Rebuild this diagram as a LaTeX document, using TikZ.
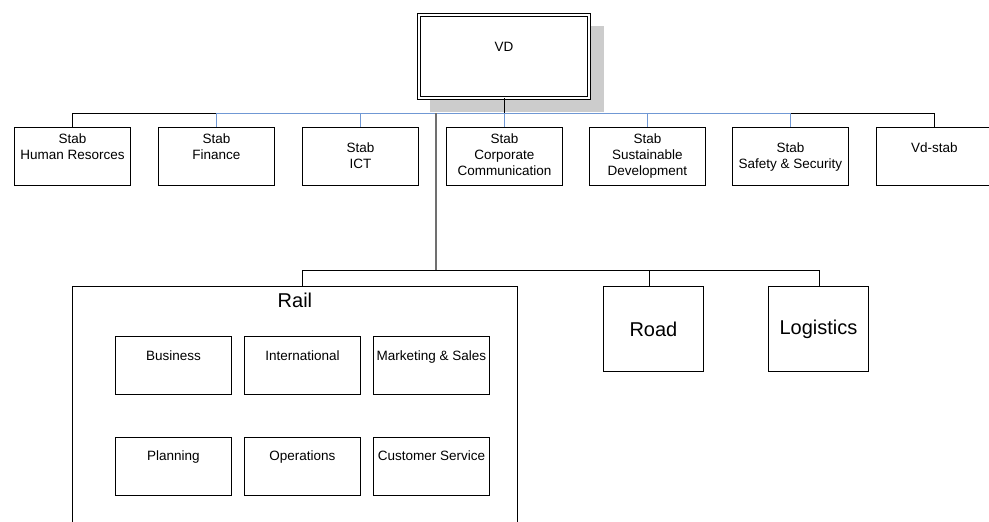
\documentclass[tikz,border=0pt]{standalone}
\usepackage{fontspec}
\setmainfont{Liberation Sans}
\begin{document}
\begin{tikzpicture}[x=1pt,y=-1pt,
  every node/.style={font=\fontsize{13.5}{16}\selectfont},
  unit/.style={draw=black, fill=white, line width=0.9pt, inner sep=0pt,
    minimum width=116pt, minimum height=58pt, anchor=north west},
  bigunit/.style={draw=black, fill=white, line width=0.9pt, inner sep=0pt,
    minimum width=100pt, minimum height=85pt, anchor=north west,
    font=\fontsize{20}{24}\selectfont},
  caption/.style={anchor=north, inner sep=0pt, align=center},
  blackline/.style={draw=black, line width=0.9pt},
  blueline/.style={draw=linkblue, line width=1pt},
  trunkline/.style={draw=trunkgray, line width=1.5pt}]
\definecolor{linkblue}{RGB}{112,152,212}
\definecolor{trunkgray}{RGB}{112,112,112}
\definecolor{shadowgray}{RGB}{204,204,204}

\clip (0,0) rectangle (989,522);
\fill[white] (0,0) rectangle (989,522);

% top box with its drop shadow
\fill[shadowgray] (430,26) rectangle (604,112);
\node[draw=black, fill=white, line width=0.9pt, double, double distance=2pt,
  inner sep=0pt, minimum width=170pt, minimum height=83pt, anchor=north west]
  (vd) at (418.5,14.5) {};
\node[caption] (vdtxt) at ([yshift=-28]vd.north) {VD};

% staff units
\node[unit] (hr)   at (14,127)  {};
\node[unit] (fin)  at (158,127) {};
\node[unit] (ict)  at (302,127) {};
\node[unit] (corp) at (446,127) {};
\node[unit] (sus)  at (589,127) {};
\node[unit] (saf)  at (732,127) {};
\node[unit] (vds)  at (876,127) {};

\node[caption] (hrtxt)   at ([yshift=-7]hr.north)    {Stab\\Human Resorces};
\node[caption] (fintxt)  at ([yshift=-7]fin.north)   {Stab\\Finance};
\node[caption] (icttxt)  at ([yshift=-16]ict.north)  {Stab\\ICT};
\node[caption] (corptxt) at ([yshift=-7]corp.north)  {Stab\\Corporate\\Communication};
\node[caption] (sustxt)  at ([yshift=-7]sus.north)   {Stab\\Sustainable\\Development};
\node[caption] (saftxt)  at ([yshift=-16]saf.north)  {Stab\\Safety \& Security};
\node[caption] (vdstxt)  at ([yshift=-16]vds.north)  {Vd-stab};

% staff bus
\coordinate (bus) at (0,113);
\draw[blackline] (hr.north) -- (hr.north |- bus) -- (fin.north |- bus);
\draw[blueline] (fin.north |- bus) -- (saf.north |- bus);
\draw[blackline] (saf.north |- bus) -- (vds.north |- bus) -- (vds.north);
\foreach \u in {fin,ict,corp,sus,saf}
  \draw[blueline] (\u.north |- bus) -- (\u.north);
\draw[blackline] (vd.south) -- (vd.south |- bus);

% business areas
\node[draw=black, fill=white, line width=0.9pt, inner sep=0pt, anchor=north west,
  minimum width=445pt, minimum height=260pt] (rail) at (72,286) {};
\node[caption, font=\fontsize{20}{24}\selectfont] (railtxt) at ([yshift=-7]rail.north) {Rail};
\node[bigunit] (road) at (603,286) {Road};
\node[bigunit] (log)  at (768,286) {Logistics};

\node[unit] (bus1) at (115,336) {};
\node[unit] (int)  at (244,336) {};
\node[unit] (mks)  at (373,336) {};
\node[unit] (pln)  at (115,437) {};
\node[unit] (ops)  at (244,437) {};
\node[unit] (cus)  at (373,437) {};
\node[caption] (bus1txt) at ([yshift=-15]bus1.north) {Business};
\node[caption] (inttxt)  at ([yshift=-15]int.north)  {International};
\node[caption] (mkstxt)  at ([yshift=-15]mks.north)  {Marketing \& Sales};
\node[caption] (plntxt)  at ([yshift=-14]pln.north)  {Planning};
\node[caption] (opstxt)  at ([yshift=-14]ops.north)  {Operations};
\node[caption] (custxt)  at ([yshift=-14]cus.north)  {Customer Service};

% line of business connectors
\coordinate (trunk) at (436,113);
\coordinate (split) at (436,270);
\coordinate (raildrop) at (302,286);
\coordinate (roaddrop) at (649,286);
\coordinate (logdrop) at (819,286);
\draw[trunkline] (trunk) -- (split);
\draw[blackline] (raildrop) -- (raildrop |- split) -- (logdrop |- split) -- (logdrop);
\draw[blackline] (roaddrop |- split) -- (roaddrop);
\end{tikzpicture}
\end{document}
